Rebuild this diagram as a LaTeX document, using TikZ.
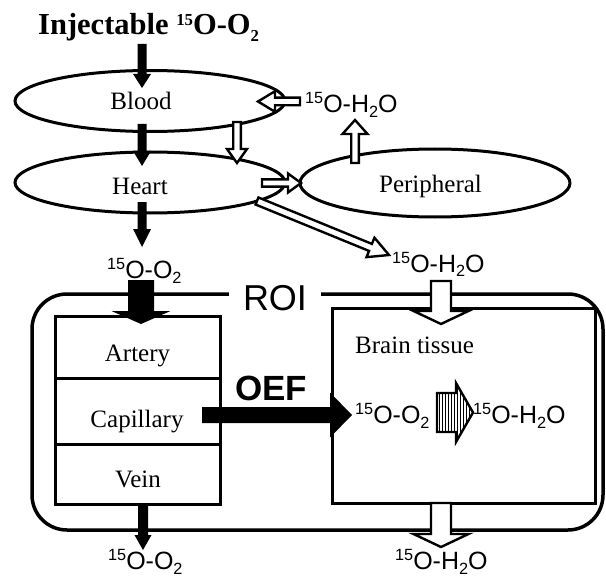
\documentclass[tikz,border=0pt]{standalone}
\usepackage{fontspec}
\setmainfont{Liberation Serif}
\setsansfont{Liberation Sans}
\usetikzlibrary{shapes.geometric,calc}
\newcommand\upi[1]{\raisebox{0.36em}{\scalebox{0.65}{#1}}}
\newcommand\dni[1]{\raisebox{-0.2em}{\scalebox{0.65}{#1}}}
\newcommand\upt[1]{\raisebox{0.3em}{\scalebox{0.55}{#1}}}
\newcommand\dnt[1]{\raisebox{-0.22em}{\scalebox{0.55}{#1}}}
% block arrow: style, from, to, half shaft, half head, head length
\newcommand\blockarrow[6]{%
  \coordinate (bah) at ($(#3)!#6!(#2)$);
  \path[#1] ($(#2)!#4!90:(#3)$) -- ($(bah)!#4!-90:(#2)$) -- ($(bah)!#5!-90:(#2)$) -- (#3)
    -- ($(bah)!#5!90:(#2)$) -- ($(bah)!#4!90:(#2)$) -- ($(#2)!#4!-90:(#3)$) -- cycle;}
\tikzset{
  hollowarr/.style={draw=black, fill=white, line width=2.4pt, line join=miter},
  solidarr/.style={fill=black},
  ell/.style={ellipse, draw, line width=3pt, inner sep=0pt},
  serif/.style={font=\fontsize{25}{30}\selectfont, inner sep=0pt},
  chem/.style={font=\sffamily\fontsize{25}{30}\selectfont, inner sep=0pt, anchor=base west},
  boxx/.style={draw, line width=3pt, inner sep=0pt},
}
\begin{document}
\begin{tikzpicture}[x=1pt,y=-1pt]
\useasboundingbox (0,0) rectangle (606,578);
% title
\node[anchor=base west, inner sep=0pt, font=\bfseries\fontsize{30.5}{34}\selectfont] (title) at (38,35) {Injectable \upt{15}O-O\dnt{2}};
% ellipses
\node[ell, minimum width=270pt, minimum height=61pt] (blood) at (150,101) {};
\node[ell, minimum width=270pt, minimum height=61pt] (heart) at (150,182.5) {};
\node[ell, minimum width=270pt, minimum height=68pt] (peri) at (435,183) {};
\node[serif, anchor=base] (bloodt) at (141,110) {Blood};
\node[serif, anchor=base] (heartt) at (140,194) {Heart};
\node[serif, anchor=base] (perit) at (430.5,193) {Peripheral};
% ROI
\node[boxx, line width=3.5pt, rounded corners=35pt, minimum width=571pt, minimum height=236pt] (roi) at (317.5,412) {};
\node[font=\sffamily\fontsize{36}{40}\selectfont, fill=white, inner xsep=14pt, inner ysep=3pt] (roit) at (275,298.5) {ROI};
% vessel boxes
\node[boxx, minimum width=165pt, minimum height=62pt] (artery) at (137.5,347) {};
\node[boxx, minimum width=165pt, minimum height=66pt] (capil) at (137.5,411) {};
\node[boxx, minimum width=165pt, minimum height=60pt] (vein) at (137.5,474) {};
\node[serif, anchor=base] (arteryt) at (137.5,361) {Artery};
\node[serif, anchor=base] (capilt) at (137,427) {Capillary};
\node[serif, anchor=base] (veint) at (138,487) {Vein};
% brain box
\node[boxx, minimum width=263pt, minimum height=195pt] (brain) at (463.5,405.5) {};
\node[serif, anchor=base west] (braint) at (355,353) {Brain tissue};
% chemical labels
\node[chem] (chA) at (305,113) {\upi{15}O-H\dni{2}O};
\node[chem] (chB) at (392,272) {\upi{15}O-H\dni{2}O};
\node[chem] (chC) at (107,278) {\upi{15}O-O\dni{2}};
\node[chem] (chD) at (355,423) {\upi{15}O-O\dni{2}};
\node[chem] (chE) at (473,423) {\upi{15}O-H\dni{2}O};
\node[chem] (chF) at (108,569) {\upi{15}O-O\dni{2}};
\node[chem] (chG) at (395,569) {\upi{15}O-H\dni{2}O};
\node[font=\sffamily\bfseries\fontsize{35}{38}\selectfont, inner sep=0pt] (oef) at (271,388.5) {OEF};
% arrow end points
\coordinate (s1) at (142,44);   \coordinate (e1) at (142,88);
\coordinate (s2) at (142,124);  \coordinate (e2) at (142,166);
\coordinate (s3) at (142,202);  \coordinate (e3) at (142,247);
\coordinate (s4) at (141,280);  \coordinate (e4) at (141,324);
\coordinate (s5) at (202,415);  \coordinate (e5) at (352,415);
\coordinate (s6) at (143,504);  \coordinate (e6) at (143,550);
\coordinate (h1s) at (300,101.5); \coordinate (h1e) at (258,101.5);
\coordinate (h2s) at (237,122);   \coordinate (h2e) at (237,163);
\coordinate (h3s) at (262,183);   \coordinate (h3e) at (301,183);
\coordinate (h4s) at (355,163);   \coordinate (h4e) at (355,120);
\coordinate (h5s) at (257,201);   \coordinate (h5e) at (389,255);
\coordinate (h6s) at (441,281);   \coordinate (h6e) at (441,324);
\coordinate (h7s) at (441,503);   \coordinate (h7e) at (441,547);
% solid arrows
\blockarrow{solidarr}{s1}{e1}{4.5pt}{9pt}{14pt}
\blockarrow{solidarr}{s2}{e2}{4.5pt}{9pt}{15pt}
\blockarrow{solidarr}{s3}{e3}{4.5pt}{9pt}{18pt}
\blockarrow{solidarr}{s4}{e4}{13pt}{29.5pt}{13pt}
\blockarrow{solidarr}{s5}{e5}{8pt}{22.5pt}{22pt}
\blockarrow{solidarr}{s6}{e6}{5pt}{8.5pt}{15pt}
% hollow arrows
\blockarrow{hollowarr}{h1s}{h1e}{3.8pt}{10.3pt}{17pt}
\blockarrow{hollowarr}{h2s}{h2e}{3.8pt}{10pt}{14pt}
\blockarrow{hollowarr}{h3s}{h3e}{3.6pt}{9.5pt}{13pt}
\blockarrow{hollowarr}{h4s}{h4e}{3.8pt}{12.5pt}{14pt}
\blockarrow{hollowarr}{h5s}{h5e}{3.8pt}{10.5pt}{20pt}
\blockarrow{hollowarr}{h6s}{h6e}{10pt}{27.5pt}{13pt}
\blockarrow{hollowarr}{h7s}{h7e}{10pt}{27.5pt}{13pt}
% striped reaction arrow
\begin{scope}
  \clip (437,393) -- (456,393) -- (456,383) -- (473,412.5) -- (456,442) -- (456,432) -- (437,432) -- cycle;
  \foreach \xx in {439.5,442.5,...,472} \draw[line width=0.9pt] (\xx,380) -- (\xx,445);
\end{scope}
\draw[line width=2.4pt, line join=miter] (437,393) -- (456,393) -- (456,383) -- (473,412.5) -- (456,442) -- (456,432) -- (437,432) -- cycle;
\end{tikzpicture}
\end{document}
